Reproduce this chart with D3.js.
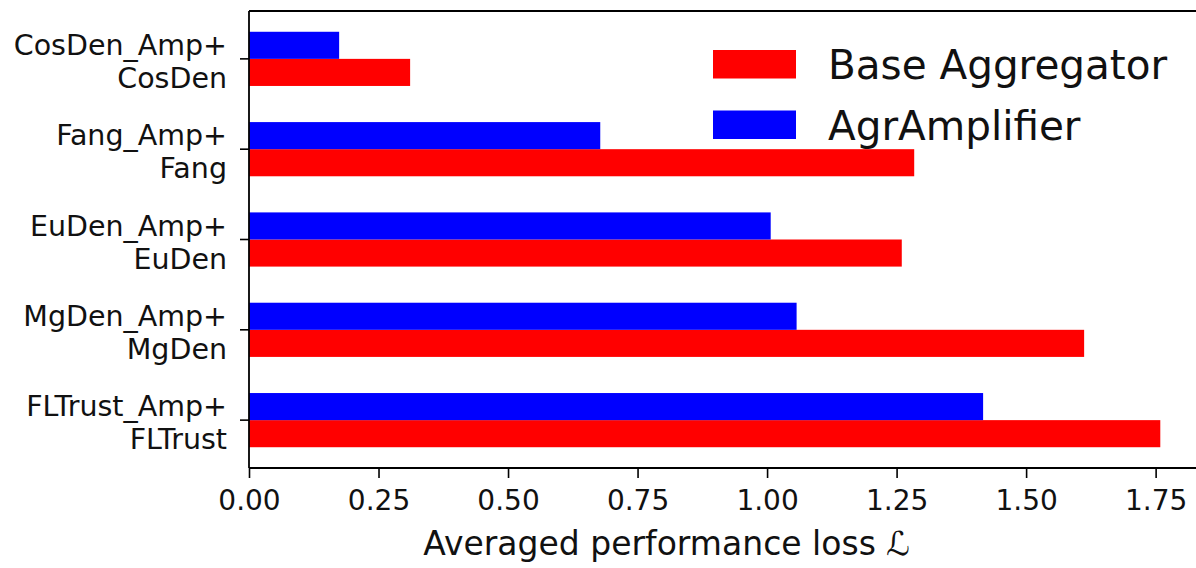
<!DOCTYPE html>
<html>
<head>
<meta charset="utf-8">
<script src="https://cdn.jsdelivr.net/npm/d3@7"></script>
<style>
  html, body { margin: 0; padding: 0; background: #fff; }
  svg { display: block; font-family: "DejaVu Sans", sans-serif; }
</style>
</head>
<body>
<svg id="chart" width="1196" height="568"></svg>
<script>
// Data (top to bottom in the chart)
const methods = ["CosDen", "Fang", "EuDen", "MgDen", "FLTrust"];
const ampLabels = ["CosDen_Amp+", "Fang_Amp+", "EuDen_Amp+", "MgDen_Amp+", "FLTrust_Amp+"];
const baseValues = [0.311, 1.284, 1.260, 1.612, 1.759];
const ampValues = [0.174, 0.678, 1.007, 1.057, 1.417];
const seriesNames = ["Base Aggregator", "AgrAmplifier"];
const seriesColors = ["#ff0000", "#0000ff"];
const xTicks = [0, 0.25, 0.5, 0.75, 1.0, 1.25, 1.5, 1.75];
const xLabel = "Averaged performance loss ";

const svg = d3.select("#chart");
const n = methods.length;
const barH = 0.3;

const x = d3.scaleLinear().domain([0, 1.848]).range([249, 1206.4]);
// position index: bottom (FLTrust) = 0, top (CosDen) = n-1
const y = d3.scaleLinear().domain([-0.53, n - 1 + 0.53]).range([468, 11]);
const pos = i => n - 1 - i;

// Bars: base (red) below tick, amplifier (blue) above tick
const g = svg.append("g");
g.selectAll("rect.base").data(baseValues).join("rect")
  .attr("class", "base")
  .attr("x", x(0))
  .attr("y", (d, i) => y(pos(i)))
  .attr("width", d => x(d) - x(0))
  .attr("height", y(0) - y(barH))
  .attr("fill", seriesColors[0]);
g.selectAll("rect.amp").data(ampValues).join("rect")
  .attr("class", "amp")
  .attr("x", x(0))
  .attr("y", (d, i) => y(pos(i) + barH))
  .attr("width", d => x(d) - x(0))
  .attr("height", y(0) - y(barH))
  .attr("fill", seriesColors[1]);

// Spines
const frame = svg.append("g").attr("stroke", "#000").attr("stroke-width", 1.8).attr("fill", "none");
frame.append("line").attr("x1", x(0)).attr("x2", x(0)).attr("y1", y.range()[1]).attr("y2", y.range()[0]);
frame.append("line").attr("x1", x(0)).attr("x2", x.range()[1]).attr("y1", y.range()[0]).attr("y2", y.range()[0]);
frame.append("line").attr("x1", x(0)).attr("x2", x.range()[1]).attr("y1", y.range()[1]).attr("y2", y.range()[1]);
frame.append("line").attr("x1", x.range()[1]).attr("x2", x.range()[1]).attr("y1", y.range()[1]).attr("y2", y.range()[0]);

// X axis
const xAxis = d3.axisBottom(x).tickValues(xTicks).tickFormat(d3.format(".2f")).tickSize(10).tickPadding(8);
const xg = svg.append("g").attr("transform", `translate(0,${y.range()[0]})`).call(xAxis);
xg.select(".domain").remove();
xg.selectAll(".tick line").attr("stroke", "#000").attr("stroke-width", 1.6);
xg.selectAll(".tick text").attr("font-size", 28).attr("fill", "#111")
  .attr("font-family", "DejaVu Sans").attr("dy", null).attr("y", 42);

// Y ticks + two-line labels
const yg = svg.append("g");
methods.forEach((m, i) => {
  const yy = y(pos(i));
  yg.append("line").attr("x1", x(0) - 9).attr("x2", x(0)).attr("y1", yy).attr("y2", yy)
    .attr("stroke", "#000").attr("stroke-width", 1.6);
  const t = yg.append("text").attr("text-anchor", "end").attr("font-size", 28.5).attr("fill", "#111");
  t.append("tspan").attr("x", 227).attr("y", yy - 4).text(ampLabels[i]);
  t.append("tspan").attr("x", 227).attr("y", yy + 29).text(m);
});

// Legend
const leg = svg.append("g");
seriesNames.forEach((s, i) => {
  const top = [50, 110.5][i];
  leg.append("rect").attr("x", 713).attr("y", top).attr("width", 83).attr("height", 28.5).attr("fill", seriesColors[i]);
  leg.append("text").attr("x", 828).attr("y", top + 29).attr("font-size", 40.5).attr("fill", "#111").text(s);
});

// X label
const xl = svg.append("text").attr("x", 666.7).attr("y", 555).attr("text-anchor", "middle")
  .attr("font-size", 33).attr("fill", "#111");
xl.append("tspan").text(xLabel);
xl.append("tspan").attr("font-style", "italic").text("ℒ");
</script>
</body>
</html>
